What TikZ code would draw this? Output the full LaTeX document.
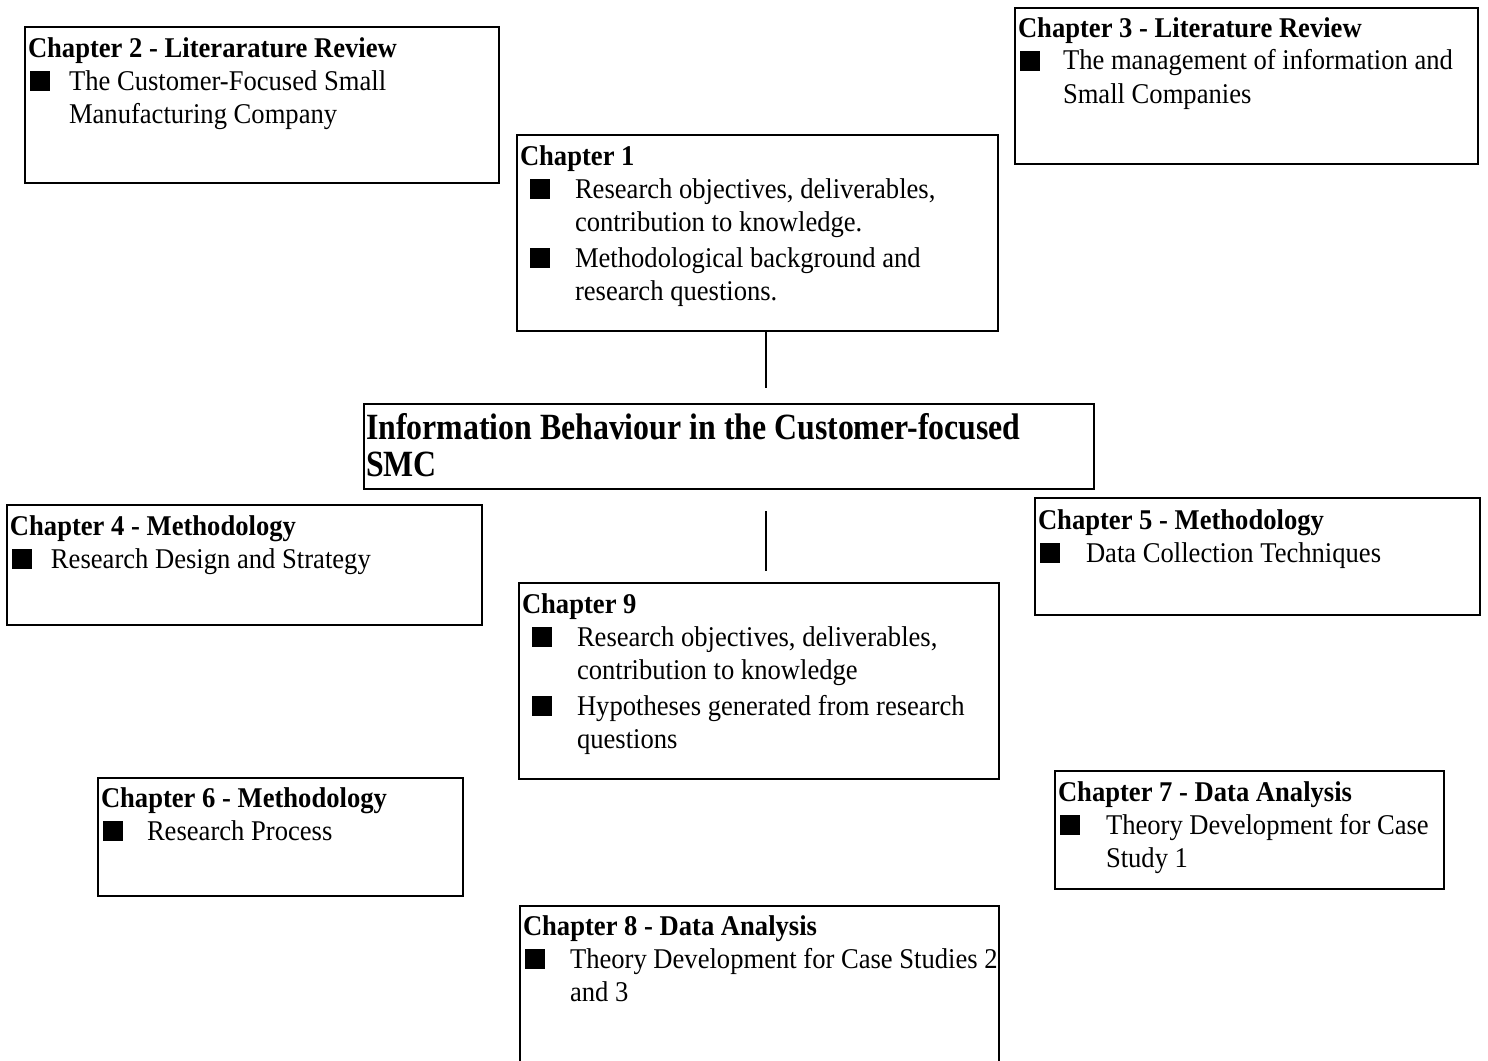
\documentclass[tikz,border=0pt]{standalone}
\usepackage{fontspec}
\setmainfont{Liberation Serif}[FakeStretch=0.93]
\newfontfamily\headfont{Liberation Serif}[FakeStretch=0.86]

% square bullet and a bulleted item: #1 = bullet offset, #2 = text offset, #3 = text
\newcommand\sqbullet{\rule[-0.3pt]{10pt}{10pt}}
\newcommand\bitem[3]{\par\leftskip=#2\relax\noindent\llap{\makebox[\dimexpr#2-#1\relax][l]{\sqbullet}}#3}
% chapter heading followed by its items; baseline is the heading's baseline
\newcommand\chaptertext[2]{\vtop{\hsize=400pt\raggedright\parindent=0pt\noindent\textbf{#1}#2\par}}

\tikzset{
  box/.style={draw, line width=1.2pt, inner sep=0pt, outer sep=0pt, anchor=north west},
  body/.style={inner sep=0pt, outer sep=0pt, anchor=base west,
               font=\fontsize{14.3}{16.5}\selectfont},
  link/.style={line width=1pt}
}

\begin{document}
\begin{tikzpicture}[x=0.5pt, y=-0.5pt]
\useasboundingbox (0,0) rectangle (1488,1060);
\clip (0,0) rectangle (1488,1060);

% ---- boxes ----
\node[box, minimum width=237pt,   minimum height=78pt]   (ch2)  at (25,27)   {};
\node[box, minimum width=231.5pt, minimum height=78pt]   (ch3)  at (1015,8)  {};
\node[box, minimum width=240.5pt, minimum height=98pt]   (ch1)  at (517,135) {};
\node[box, minimum width=365pt,   minimum height=42.5pt] (main) at (364,404) {};
\node[box, minimum width=237.5pt, minimum height=60pt]   (ch4)  at (7,505)   {};
\node[box, minimum width=222.5pt, minimum height=58.5pt] (ch5)  at (1035,498){};
\node[box, minimum width=240pt,   minimum height=98pt]   (ch9)  at (519,583) {};
\node[box, minimum width=182.5pt, minimum height=59pt]   (ch6)  at (98,778)  {};
\node[box, minimum width=194.5pt, minimum height=59pt]   (ch7)  at (1055,771){};
\node[box, minimum width=239.5pt, minimum height=84.5pt] (ch8)  at (520,906) {};

% ---- texts ----
\node[body] (ch2t) at ([shift={(3,30)}]ch2.north west)
  {\chaptertext{Chapter 2 - Literarature Review}{%
   \bitem{1pt}{20.5pt}{The Customer-Focused Small\\Manufacturing Company}}};

\node[body] (ch3t) at ([shift={(3,29)}]ch3.north west)
  {\chaptertext{Chapter 3 - Literature Review}{%
   \bitem{1pt}{22.5pt}{The management of information and\\Small Companies}}};

\node[body] (ch1t) at ([shift={(3,30)}]ch1.north west)
  {\chaptertext{Chapter 1}{%
   \bitem{5pt}{27.5pt}{Research objectives, deliverables,\\contribution to knowledge.}%
   \par\vskip1.5pt
   \bitem{5pt}{27.5pt}{Methodological background and\\research questions.}}};

\node[inner sep=0pt, outer sep=0pt, anchor=base west,
      font=\headfont\fontsize{18.5}{18.5}\selectfont\bfseries] (maint)
  at ([shift={(2,35)}]main.north west)
  {\vtop{\hsize=400pt\parindent=0pt\noindent Information Behaviour in the Customer-focused\par\noindent SMC\par}};

\node[body] (ch4t) at ([shift={(3,30)}]ch4.north west)
  {\chaptertext{Chapter 4 - Methodology}{%
   \bitem{1pt}{20.5pt}{Research Design and Strategy}}};

\node[body] (ch5t) at ([shift={(3,31)}]ch5.north west)
  {\chaptertext{Chapter 5 - Methodology}{%
   \bitem{1pt}{24pt}{Data Collection Techniques}}};

\node[body] (ch9t) at ([shift={(3,30)}]ch9.north west)
  {\chaptertext{Chapter 9}{%
   \bitem{5pt}{27.5pt}{Research objectives, deliverables,\\contribution to knowledge}%
   \par\vskip1.5pt
   \bitem{5pt}{27.5pt}{Hypotheses generated from research\\questions}}};

\node[body] (ch6t) at ([shift={(3,29)}]ch6.north west)
  {\chaptertext{Chapter 6 - Methodology}{%
   \bitem{1pt}{23pt}{Research Process}}};

\node[body] (ch7t) at ([shift={(3,30)}]ch7.north west)
  {\chaptertext{Chapter 7 - Data Analysis}{%
   \bitem{1pt}{24pt}{Theory Development for Case\\Study 1}}};

\node[body] (ch8t) at ([shift={(3,29)}]ch8.north west)
  {\chaptertext{Chapter 8 - Data Analysis}{%
   \bitem{1pt}{23.5pt}{Theory Development for Case Studies 2\\and 3}}};

% ---- connecting strokes ----
\coordinate (j1) at (766,388);
\coordinate (j2) at (766,511);
\coordinate (j3) at (766,571);
\draw[link] (ch1.south -| j1) -- (j1);
\draw[link] (j2) -- (j3);
\end{tikzpicture}
\end{document}
